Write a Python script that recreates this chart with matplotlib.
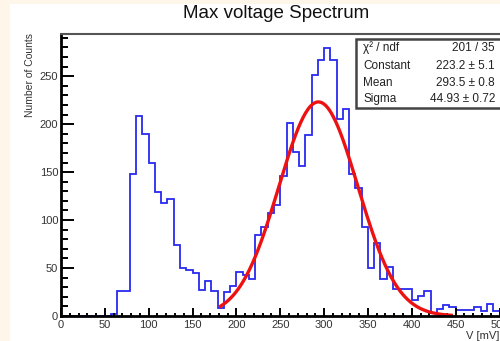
import numpy as np
import matplotlib
matplotlib.use("Agg")
import matplotlib.pyplot as plt
from matplotlib.patches import Rectangle
from matplotlib.ticker import MultipleLocator

plt.rcParams['font.family'] = ['Liberation Sans', 'DejaVu Sans']

# 70 bins from 0 to 500 mV
bin_edges = np.linspace(0, 500, 71)
counts = [0, 0, 0, 0, 0, 0, 0, 0, 2, 26,
          26, 148, 208, 190, 160, 129, 118, 122, 74, 50,
          48, 45, 27, 36, 26, 8, 25, 31, 46, 43,
          39, 84, 93, 107, 116, 146, 201, 171, 156, 189,
          251, 267, 279, 267, 205, 216, 148, 133, 93, 50,
          76, 39, 51, 28, 28, 28, 17, 21, 26, 3,
          7, 11, 9, 6, 6, 6, 9, 5, 12, 5]

# gaussian fit result
fit_const = 223.2
fit_mean = 293.5
fit_sigma = 44.93
fit_range = (182, 445)

stat_names = ["\u03c7\u00b2 / ndf", "Constant", "Mean", "Sigma"]
stat_values = ["201 / 35", "223.2 \u00b1 5.1", "293.5 \u00b1 0.8", "44.93 \u00b1 0.72"]

W, H = 500, 341
fig = plt.figure(figsize=(W / 100, H / 100), dpi=100)
fig.patch.set_facecolor('#fdf6e9')
fig.add_artist(Rectangle((10 / W, 0), 1, (H - 4) / H, transform=fig.transFigure,
                         facecolor='white', edgecolor='none', zorder=0))

ax = fig.add_axes([61 / W, 25 / H, 438.5 / W, 282 / H])
ax.stairs(counts, bin_edges, color='#2a2af0', linewidth=1.3)

xf = np.linspace(fit_range[0], fit_range[1], 300)
yf = fit_const * np.exp(-0.5 * ((xf - fit_mean) / fit_sigma) ** 2)
ax.plot(xf, yf, color='#ee1111', linewidth=2.4)

ax.set_xlim(0, 500)
ax.set_ylim(0, 294)
ax.xaxis.set_major_locator(MultipleLocator(50))
ax.xaxis.set_minor_locator(MultipleLocator(10))
ax.yaxis.set_major_locator(MultipleLocator(50))
ax.yaxis.set_minor_locator(MultipleLocator(10))
ax.tick_params(axis='both', which='both', direction='in', colors='black',
               labelcolor='#333333', labelsize=8, width=1.4)
ax.tick_params(axis='x', which='major', length=6, pad=3)
ax.tick_params(axis='x', which='minor', length=2.5)
ax.tick_params(axis='y', which='major', length=9.5, pad=2)
ax.tick_params(axis='y', which='minor', length=5)
for s in ['left', 'bottom']:
    ax.spines[s].set_linewidth(2)
    ax.spines[s].set_color('black')
ax.spines['top'].set_linewidth(1.5)
ax.spines['top'].set_color('#555555')
ax.spines['right'].set_visible(False)

fig.text(276 / W, 1 - 13 / H, 'Max voltage Spectrum', ha='center', va='center',
         fontsize=13.5, color='#111111')
fig.text(30 / W, 1 - 33 / H, 'Number of Counts', rotation=90, ha='center', va='top',
         fontsize=7.5, color='#333333')
fig.text(499 / W, 1 - 336 / H, 'V [mV]', ha='right', va='center', fontsize=8,
         color='#333333')

# stats box
fig.add_artist(Rectangle((356 / W, 1 - 108 / H), 160 / W, 69 / H,
                         transform=fig.transFigure, facecolor='white',
                         edgecolor='#444444', linewidth=1.8, zorder=5))
row_y = [48, 66, 83, 99]
for name, val, y in zip(stat_names, stat_values, row_y):
    fig.text(363 / W, 1 - y / H, name, ha='left', va='center', fontsize=8.5,
             color='#222222', zorder=6)
    fig.text(495 / W, 1 - y / H, val, ha='right', va='center', fontsize=8.5,
             color='#222222', zorder=6)

fig.savefig('out.png', dpi=100)
